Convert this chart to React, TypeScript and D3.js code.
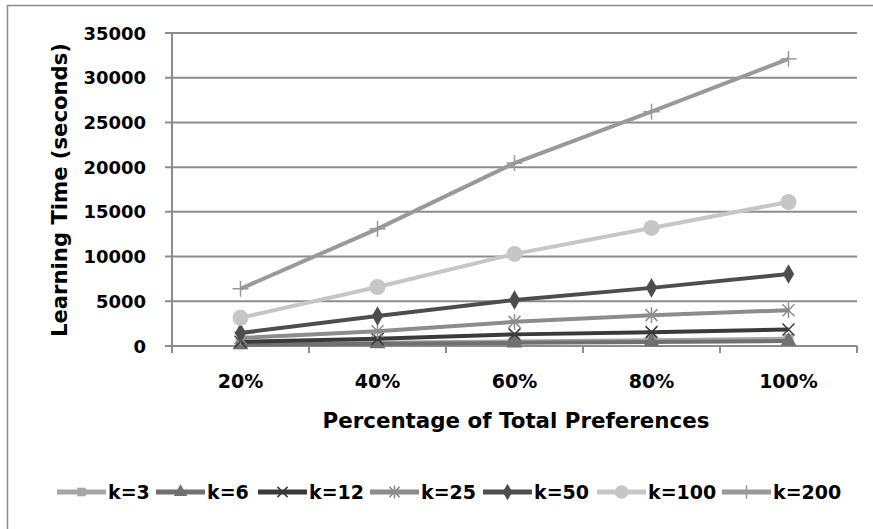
import React from "react";
import * as d3 from "d3";

const categories = ["20%", "40%", "60%", "80%", "100%"];
const yTicks = [0, 5000, 10000, 15000, 20000, 25000, 30000, 35000];
const seriesNames = ["k=3", "k=6", "k=12", "k=25", "k=50", "k=100", "k=200"];
const k3 = [200, 350, 500, 650, 800];
const k6 = [150, 250, 350, 450, 550];
const k12 = [480, 800, 1300, 1550, 1850];
const k25 = [900, 1650, 2700, 3450, 4000];
const k50 = [1450, 3350, 5150, 6500, 8050];
const k100 = [3150, 6600, 10300, 13200, 16100];
const k200 = [6400, 13100, 20450, 26200, 32100];
const seriesValues = [k3, k6, k12, k25, k50, k100, k200];

const colors = ["#a6a6a6", "#707070", "#3a3a3a", "#8c8c8c", "#4d4d4d", "#c6c6c6", "#999999"];
const markerTypes = ["square", "triangle", "x", "asterisk", "diamond", "circle", "plus"];

const W = 873, H = 529;
const left = 172, right = 857, top = 33, bottom = 346;
const FONT = "'DejaVu Sans', sans-serif";

function Marker({ type, cx, cy, color, s = 1 }: { type: string; cx: number; cy: number; color: string; s?: number }) {
  const sym = (t: any, size: number) => d3.symbol().type(t).size(size * s * s)() as string;
  switch (type) {
    case "square":
      return <path d={sym(d3.symbolSquare, 100)} transform={`translate(${cx},${cy})`} fill={color} />;
    case "triangle":
      return <path d={sym(d3.symbolTriangle, 110)} transform={`translate(${cx},${cy})`} fill={color} />;
    case "diamond":
      return <path d={sym(d3.symbolDiamond, 110)} transform={`translate(${cx},${cy})`} fill={color} />;
    case "circle":
      return <circle cx={cx} cy={cy} r={8 * s} fill={color} />;
    case "x": {
      const r = 6 * s;
      return (
        <g stroke={color} strokeWidth={1.5}>
          <line x1={cx - r} y1={cy - r} x2={cx + r} y2={cy + r} />
          <line x1={cx - r} y1={cy + r} x2={cx + r} y2={cy - r} />
        </g>
      );
    }
    case "asterisk": {
      const r = 6 * s;
      return (
        <g stroke={color} strokeWidth={1.5}>
          <line x1={cx - r} y1={cy - r} x2={cx + r} y2={cy + r} />
          <line x1={cx - r} y1={cy + r} x2={cx + r} y2={cy - r} />
          <line x1={cx} y1={cy - r * 1.3} x2={cx} y2={cy + r * 1.3} />
        </g>
      );
    }
    case "plus": {
      const r = 8 * s;
      return (
        <g stroke={color} strokeWidth={1.5}>
          <line x1={cx - r} y1={cy} x2={cx + r} y2={cy} />
          <line x1={cx} y1={cy - r} x2={cx} y2={cy + r} />
        </g>
      );
    }
  }
  return null;
}

export default function App() {
  const x = d3.scaleBand<string>().domain(categories).range([left, right]).padding(0);
  const cx = (c: string) => (x(c) as number) + x.bandwidth() / 2;
  const y = d3.scaleLinear().domain([0, 35000]).range([bottom, top]);
  const line = d3
    .line<number>()
    .x((_, i) => cx(categories[i]))
    .y((v) => y(v));

  const boundaries = categories.map((c) => x(c) as number).concat([right]);

  const legendX = [57, 156, 258, 370, 483, 597, 722];
  const legendY = 492;

  return (
    <svg width={W} height={H} style={{ position: "absolute", left: 0, top: 0, background: "#fff" }}>
      <rect x={7.5} y={5.5} width={900} height={600} fill="#fff" stroke="#8a8a8a" strokeWidth={1.5} />
      {/* gridlines */}
      {yTicks.map((t) => (
        <line key={t} x1={165} x2={right} y1={y(t)} y2={y(t)} stroke="#8c8c8c" strokeWidth={2} />
      ))}
      {/* y axis */}
      <line x1={left} x2={left} y1={top} y2={bottom + 7} stroke="#8c8c8c" strokeWidth={2} />
      {/* x ticks */}
      {boundaries.map((b, i) => (
        <line key={i} x1={b} x2={b} y1={bottom} y2={bottom + 7} stroke="#8c8c8c" strokeWidth={2} />
      ))}
      {/* y tick labels */}
      {yTicks.map((t) => (
        <text key={t} x={146} y={y(t) + 6.5} textAnchor="end" fontFamily={FONT} fontWeight="bold" fontSize={18} fill="#000">
          {t}
        </text>
      ))}
      {/* x tick labels */}
      {categories.map((c) => (
        <text key={c} x={cx(c)} y={388} textAnchor="middle" fontFamily={FONT} fontWeight="bold" fontSize={19} fill="#000">
          {c}
        </text>
      ))}
      <text x={516} y={428} textAnchor="middle" fontFamily={FONT} fontWeight="bold" fontSize={21} fill="#000" textLength={387} lengthAdjust="spacingAndGlyphs">
        Percentage of Total Preferences
      </text>
      <text transform="translate(67,190) rotate(-90)" textAnchor="middle" fontFamily={FONT} fontWeight="bold" fontSize={21} fill="#000" textLength={294} lengthAdjust="spacingAndGlyphs">
        Learning Time (seconds)
      </text>
      {/* series */}
      {seriesValues.map((vals, si) => (
        <g key={seriesNames[si]}>
          <path d={line(vals) as string} fill="none" stroke={colors[si]} strokeWidth={4} />
          {vals.map((v, i) => (
            <Marker key={i} type={markerTypes[si]} cx={cx(categories[i])} cy={y(v)} color={colors[si]} />
          ))}
        </g>
      ))}
      {/* legend */}
      {seriesNames.map((n, si) => (
        <g key={n}>
          <line x1={legendX[si]} x2={legendX[si] + 49} y1={legendY} y2={legendY} stroke={colors[si]} strokeWidth={5} />
          <Marker type={markerTypes[si]} cx={legendX[si] + 24.5} cy={legendY} color={colors[si]} s={0.85} />
          <text x={legendX[si] + 51} y={legendY + 7} fontFamily={FONT} fontWeight="bold" fontSize={19} fill="#000">
            {n}
          </text>
        </g>
      ))}
    </svg>
  );
}
